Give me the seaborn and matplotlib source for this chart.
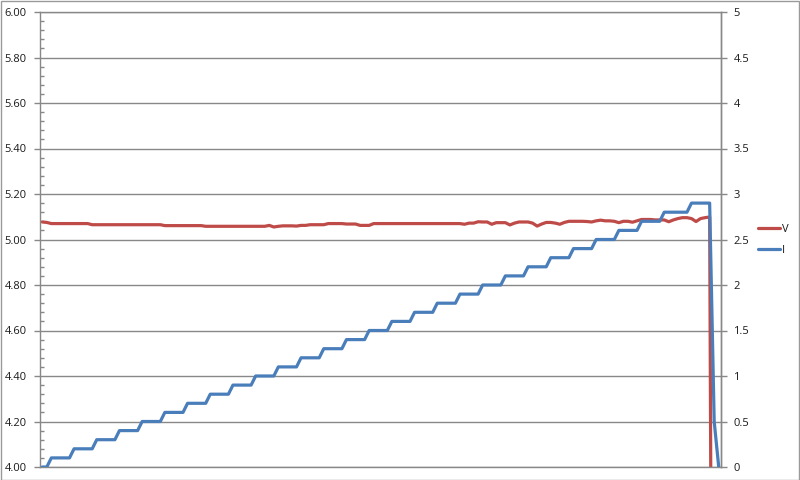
import matplotlib
matplotlib.use("Agg")
import matplotlib.pyplot as plt
import seaborn as sns
import pandas as pd
from matplotlib.ticker import MultipleLocator, FixedLocator
from matplotlib.lines import Line2D
from matplotlib.patches import Rectangle

# ---- data (150 samples) ----
V = [5.077, 5.075,
     5.070, 5.070, 5.070, 5.070, 5.070, 5.070, 5.070, 5.070, 5.070,
     5.065, 5.065, 5.065, 5.065, 5.065, 5.065, 5.065, 5.065,
     5.065, 5.065, 5.065, 5.065, 5.065, 5.065, 5.065, 5.065,
     5.061, 5.061, 5.061, 5.061, 5.061, 5.061, 5.061, 5.061, 5.061,
     5.058, 5.058, 5.058, 5.058, 5.058, 5.058, 5.058,
     5.058, 5.058, 5.058, 5.058, 5.058, 5.058, 5.058,
     5.062, 5.055, 5.058,
     5.060, 5.060, 5.060,
     5.059,
     5.062, 5.062,
     5.065, 5.065, 5.065, 5.065,
     5.070, 5.070, 5.070, 5.070,
     5.068, 5.068, 5.068,
     5.062, 5.062, 5.062,
     5.070, 5.070, 5.070, 5.070, 5.070, 5.070, 5.070, 5.070, 5.070, 5.070,
     5.070, 5.070, 5.070, 5.070, 5.070, 5.070, 5.070, 5.070, 5.070, 5.070,
     5.067,
     5.072, 5.072,
     5.078,
     5.077, 5.077,
     5.067,
     5.074, 5.074, 5.074,
     5.064,
     5.072,
     5.077, 5.077, 5.077,
     5.072,
     5.059,
     5.068,
     5.075, 5.075,
     5.072,
     5.067,
     5.075,
     5.080, 5.080, 5.080, 5.080,
     5.079,
     5.077,
     5.082,
     5.085,
     5.082, 5.082,
     5.080,
     5.074,
     5.080, 5.080,
     5.076,
     5.082,
     5.088, 5.088, 5.088,
     5.086, 5.086, 5.086,
     5.078,
     5.086,
     5.092,
     5.096, 5.096,
     5.092,
     5.079,
     5.092,
     5.096,
     5.099,
     0.5,
     0.0]

I = [0.0, 0.0,
     0.1, 0.1, 0.1, 0.1, 0.1,
     0.2, 0.2, 0.2, 0.2, 0.2,
     0.3, 0.3, 0.3, 0.3, 0.3,
     0.4, 0.4, 0.4, 0.4, 0.4,
     0.5, 0.5, 0.5, 0.5, 0.5,
     0.6, 0.6, 0.6, 0.6, 0.6,
     0.7, 0.7, 0.7, 0.7, 0.7,
     0.8, 0.8, 0.8, 0.8, 0.8,
     0.9, 0.9, 0.9, 0.9, 0.9,
     1.0, 1.0, 1.0, 1.0, 1.0,
     1.1, 1.1, 1.1, 1.1, 1.1,
     1.2, 1.2, 1.2, 1.2, 1.2,
     1.3, 1.3, 1.3, 1.3, 1.3,
     1.4, 1.4, 1.4, 1.4, 1.4,
     1.5, 1.5, 1.5, 1.5, 1.5,
     1.6, 1.6, 1.6, 1.6, 1.6,
     1.7, 1.7, 1.7, 1.7, 1.7,
     1.8, 1.8, 1.8, 1.8, 1.8,
     1.9, 1.9, 1.9, 1.9, 1.9,
     2.0, 2.0, 2.0, 2.0, 2.0,
     2.1, 2.1, 2.1, 2.1, 2.1,
     2.2, 2.2, 2.2, 2.2, 2.2,
     2.3, 2.3, 2.3, 2.3, 2.3,
     2.4, 2.4, 2.4, 2.4, 2.4,
     2.5, 2.5, 2.5, 2.5, 2.5,
     2.6, 2.6, 2.6, 2.6, 2.6,
     2.7, 2.7, 2.7, 2.7, 2.7,
     2.8, 2.8, 2.8, 2.8, 2.8, 2.8,
     2.9, 2.9, 2.9, 2.9, 2.9,
     0.5,
     0.0]

series_names = ["V", "I"]
left_ticks = [4.00, 4.20, 4.40, 4.60, 4.80, 5.00, 5.20, 5.40, 5.60, 5.80, 6.00]
right_ticks = [0, 0.5, 1, 1.5, 2, 2.5, 3, 3.5, 4, 4.5, 5]
right_labels = ["0", "0.5", "1", "1.5", "2", "2.5", "3", "3.5", "4", "4.5", "5"]

RED = "#BE4B48"
BLUE = "#4A7EBB"
GRID = "#888888"
TXT = "#1a1a1a"

sns.set_style("white")
plt.rcParams['font.family'] = ['Open Sans', 'DejaVu Sans']

n = min(len(V), len(I))
df = pd.DataFrame({"idx": list(range(n)), "V": V[:n], "I": I[:n]})

fig = plt.figure(figsize=(8, 4.8), dpi=100)
ax = fig.add_axes([40 / 800, 13 / 480, 681 / 800, 455 / 480])
ax2 = ax.twinx()

sns.lineplot(data=df, x="idx", y="V", ax=ax, color=RED, lw=2.3, legend=False)
sns.lineplot(data=df, x="idx", y="I", ax=ax2, color=BLUE, lw=2.3, legend=False)

ax.set_xlim(-0.5, n - 0.5)
ax.set_ylim(4.0, 6.0)
ax2.set_ylim(0, 5)

ax.set_xticks([])
ax2.set_xticks([])
ax.set_xlabel("")
ax.set_ylabel("")
ax2.set_ylabel("")

ax.yaxis.set_major_locator(FixedLocator(left_ticks))
ax.set_yticklabels([f"{t:.2f}" for t in left_ticks])
ax.yaxis.set_minor_locator(MultipleLocator(0.04))
ax.yaxis.grid(True, which='major', color=GRID, lw=1)
ax.xaxis.grid(False)
ax.set_axisbelow(True)
ax.tick_params(axis='y', which='major', direction='out', length=4, width=1,
               color=GRID, pad=5.5, labelsize=8, labelcolor=TXT, left=True)
ax.tick_params(axis='y', which='minor', direction='in', length=3, width=1,
               color=GRID, left=True)

ax2.yaxis.set_major_locator(FixedLocator(right_ticks))
ax2.set_yticklabels(right_labels)
ax2.tick_params(axis='y', which='major', direction='out', length=4, width=1,
                color=GRID, pad=5, labelsize=8, labelcolor=TXT, right=True)
ax2.grid(False)

for a in (ax, ax2):
    for s in a.spines.values():
        s.set_color(GRID)
        s.set_linewidth(1)
ax2.spines['left'].set_visible(False)
ax2.spines['bottom'].set_visible(False)
ax2.spines['top'].set_visible(False)

handles = [Line2D([], [], color=RED, lw=2.3), Line2D([], [], color=BLUE, lw=2.3)]
fig.legend(handles=handles, labels=series_names, loc='center left',
           bbox_to_anchor=(758 / 800, 1 - 240 / 480), frameon=False,
           fontsize=8, handlelength=2.0, handletextpad=0.15, labelspacing=0.95,
           borderaxespad=0, borderpad=0, labelcolor=TXT)

fig.patches.append(Rectangle((0.5 / 800, 0.5 / 480), 798.5 / 800, 478.5 / 480,
                             transform=fig.transFigure, fill=False,
                             ec="#9a9a9a", lw=1))

fig.savefig("out.png", dpi=100)
